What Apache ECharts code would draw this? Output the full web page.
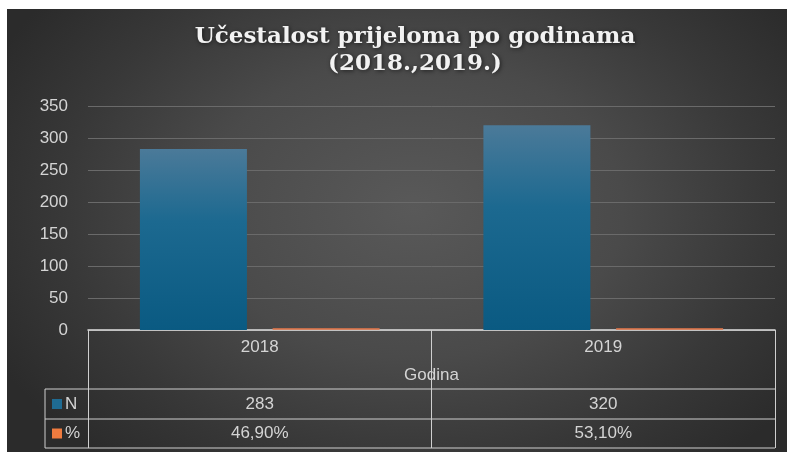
<!DOCTYPE html>
<html>
<head>
<meta charset="utf-8">
<script src="https://cdn.jsdelivr.net/npm/echarts@6/dist/echarts.min.js"></script>
<style>
  html, body { margin: 0; padding: 0; background: #ffffff; }
  #chart {
    position: absolute; left: 7px; top: 9px; width: 780px; height: 443px;
    background: radial-gradient(ellipse 60% 75% at 52% 45%, #595959 0%, #4a4a4a 45%, #383838 75%, #2b2b2b 100%);
  }
</style>
</head>
<body>
<div id="chart"></div>
<script>
const titleText = 'Učestalost prijeloma po godinama\n(2018.,2019.)';
const categories = ['2018', '2019'];
const axisName = 'Godina';
const seriesNames = ['N', '%'];
const nValues = [283, 320];
const pctValues = [0.469, 0.531];
const pctLabels = ['46,90%', '53,10%'];
const yMin = 0, yMax = 350, yInterval = 50;

const chart = echarts.init(document.getElementById('chart'), null, { renderer: 'canvas' });
const textColor = '#d4d4d4';
const lineColor = '#cfcfcf';
const fontFam = 'Liberation Sans';
const gridL = 81, gridR = 12, gridT = 97, gridB = 122;

const option = {
  backgroundColor: 'transparent',
  animation: false,
  grid: { left: gridL, right: gridR, top: gridT, bottom: gridB, containLabel: false },
  xAxis: {
    type: 'category',
    data: categories,
    name: axisName,
    nameLocation: 'middle',
    nameGap: 37,
    nameTextStyle: { color: textColor, fontSize: 17, fontFamily: fontFam },
    axisLine: { show: true, lineStyle: { color: '#e0e0e0', width: 1.5 } },
    axisTick: { show: true, length: 118, lineStyle: { color: lineColor, width: 1 } },
    axisLabel: { color: textColor, fontSize: 17, fontFamily: fontFam, margin: 9 },
    splitLine: { show: false }
  },
  yAxis: {
    type: 'value',
    min: yMin, max: yMax, interval: yInterval,
    axisLine: { show: false },
    axisTick: { show: false },
    axisLabel: { color: textColor, fontSize: 17, fontFamily: fontFam, margin: 20 },
    splitLine: { lineStyle: { color: '#6a6a6a', width: 1 } }
  },
  series: [
    {
      name: seriesNames[0], type: 'bar', data: nValues, barWidth: 107, barGap: '24%',
      itemStyle: {
        color: new echarts.graphic.LinearGradient(0, 0, 0, 1, [
          { offset: 0, color: '#4b7a99' },
          { offset: 0.4, color: '#1c6990' },
          { offset: 1, color: '#0a5a82' }
        ]),
        shadowBlur: 6, shadowColor: 'rgba(120,60,30,0.45)'
      }
    },
    {
      name: seriesNames[1], type: 'bar', data: pctValues, barWidth: 107, barMinHeight: 2,
      itemStyle: { color: '#e0764a', opacity: 0.8 }
    }
  ]
};
chart.setOption(option);

// Data table drawn below the plot
const g = [];
const tableLeft = 38, row1 = 380, row2 = 410, row3 = 439;
const plotRight = 780 - gridR;
[row1, row2, row3].forEach(function (y) {
  g.push({ type: 'line', shape: { x1: tableLeft, y1: y, x2: plotRight, y2: y }, style: { stroke: lineColor, lineWidth: 1 } });
});
g.push({ type: 'line', shape: { x1: tableLeft, y1: row1, x2: tableLeft, y2: row3 }, style: { stroke: lineColor, lineWidth: 1 } });
// legend keys
const keyColors = ['#1f6b92', '#ef7b3f'];
const rowCenters = [(row1 + row2) / 2, (row2 + row3) / 2];
seriesNames.forEach(function (nm, i) {
  g.push({ type: 'rect', shape: { x: 45, y: rowCenters[i] - 5, width: 10, height: 10 }, style: { fill: keyColors[i] } });
  g.push({ type: 'text', x: 58, y: rowCenters[i], style: { text: nm, fill: textColor, fontSize: 17, fontFamily: fontFam, verticalAlign: 'middle', align: 'left' } });
});
categories.forEach(function (c, i) {
  const x = chart.convertToPixel({ xAxisIndex: 0 }, c);
  g.push({ type: 'text', x: x, y: rowCenters[0], style: { text: String(nValues[i]), fill: textColor, fontSize: 17, fontFamily: fontFam, align: 'center', verticalAlign: 'middle' } });
  g.push({ type: 'text', x: x, y: rowCenters[1], style: { text: pctLabels[i], fill: textColor, fontSize: 17, fontFamily: fontFam, align: 'center', verticalAlign: 'middle' } });
});
// title
g.push({
  type: 'text', x: 408, y: 15,
  style: {
    text: titleText, fill: '#f2f2f2', fontSize: 23, fontWeight: 'bold', fontFamily: 'DejaVu Serif',
    align: 'center', verticalAlign: 'top', lineHeight: 27,
    textShadowColor: 'rgba(0,0,0,0.6)', textShadowBlur: 4, textShadowOffsetX: 1, textShadowOffsetY: 1
  }
});
chart.setOption({ graphic: { elements: g } });
</script>
</body>
</html>
